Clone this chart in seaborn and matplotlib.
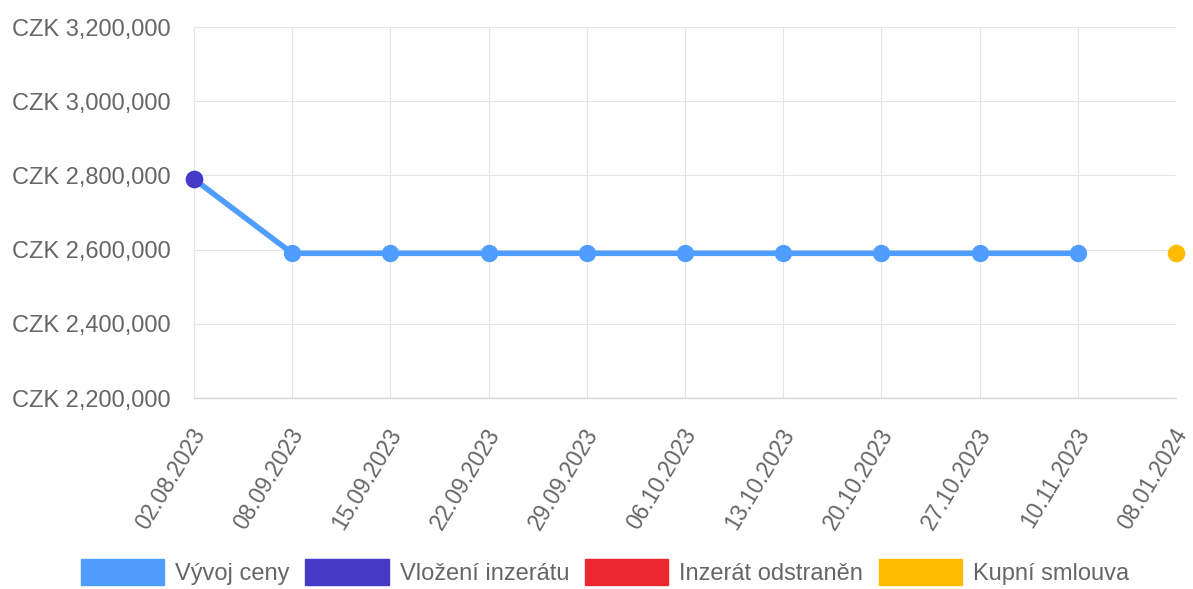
import matplotlib
matplotlib.use("Agg")
import matplotlib.pyplot as plt
import matplotlib.transforms as mtransforms
from matplotlib.patches import Patch
from matplotlib.ticker import FuncFormatter
import numpy as np
import pandas as pd
import seaborn as sns

# ---- data ----
dates = ["02.08.2023", "08.09.2023", "15.09.2023", "22.09.2023", "29.09.2023",
         "06.10.2023", "13.10.2023", "20.10.2023", "27.10.2023", "10.11.2023",
         "08.01.2024"]
price_history = [2790000, 2590000, 2590000, 2590000, 2590000,
                 2590000, 2590000, 2590000, 2590000, 2590000, np.nan]
listing_added = [2790000] + [np.nan] * 10
listing_removed = [np.nan] * 11
purchase_contract = [np.nan] * 10 + [2590000]

legend_labels = ["Vývoj ceny", "Vložení inzerátu", "Inzerát odstraněn", "Kupní smlouva"]
colors = ["#4e9dff", "#4539c8", "#ec2730", "#ffbb00"]
y_ticks = [2200000, 2400000, 2600000, 2800000, 3000000, 3200000]

sns.set_style("white")
plt.rcParams["font.family"] = ["Liberation Sans", "DejaVu Sans"]

df = pd.DataFrame({
    "idx": np.arange(len(dates)),
    "date": dates,
    "price": price_history,
    "added": listing_added,
    "removed": listing_removed,
    "contract": purchase_contract,
})

fig = plt.figure(figsize=(11.93, 5.89), dpi=100)
ax = fig.add_axes([194 / 1193, 1 - 398 / 589, (1176 - 194) / 1193, (398 - 27) / 589])

grid_c = "#e5e5e5"
text_c = "#666666"

sns.lineplot(data=df.dropna(subset=["price"]), x="idx", y="price", ax=ax,
             color=colors[0], linewidth=4, marker="o", markersize=12.5,
             markeredgewidth=0, clip_on=False, zorder=3)
sns.scatterplot(data=df.dropna(subset=["added"]), x="idx", y="added", ax=ax,
                color=colors[1], s=160, linewidth=0, clip_on=False, zorder=4)
sns.scatterplot(data=df.dropna(subset=["contract"]), x="idx", y="contract", ax=ax,
                color=colors[3], s=160, linewidth=0, clip_on=False, zorder=4)

ax.set_xlim(0, len(dates) - 1)
ax.set_ylim(y_ticks[0], y_ticks[-1])
ax.set_yticks(y_ticks)
ax.yaxis.set_major_formatter(FuncFormatter(lambda v, p: f"CZK {int(v):,}"))
ax.set_xticks(df["idx"])
ax.set_xticklabels(dates)
ax.set_xlabel("")
ax.set_ylabel("")

ax.grid(True, color=grid_c, linewidth=0.8)
ax.set_axisbelow(True)
for s in ["top", "right"]:
    ax.spines[s].set_visible(False)
ax.spines["left"].set_color(grid_c)
ax.spines["left"].set_linewidth(0.8)
ax.spines["bottom"].set_color("#d2d2d2")
ax.spines["bottom"].set_linewidth(0.9)

ax.tick_params(axis="y", length=11.5, width=0.8, color=grid_c, pad=5,
               labelsize=17, labelcolor=text_c)
ax.tick_params(axis="x", length=11, width=0.8, color=grid_c, pad=12,
               labelsize=16.4, labelcolor=text_c)

shift = mtransforms.ScaledTranslation(6 / 100, 0, fig.dpi_scale_trans)
for lbl in ax.get_xticklabels():
    lbl.set_rotation(59)
    lbl.set_rotation_mode("anchor")
    lbl.set_ha("right")
    lbl.set_va("center")
    lbl.set_transform(lbl.get_transform() + shift)

handles = [Patch(facecolor=c, edgecolor=c) for c in colors]
leg = fig.legend(handles, legend_labels, loc="lower center",
                 bbox_to_anchor=(0.507, -0.03), ncol=4, frameon=False,
                 fontsize=17, handlelength=3.55, handleheight=1.35,
                 handletextpad=0.45, columnspacing=0.66)
for t in leg.get_texts():
    t.set_color(text_c)

fig.savefig("out.png", dpi=100)
